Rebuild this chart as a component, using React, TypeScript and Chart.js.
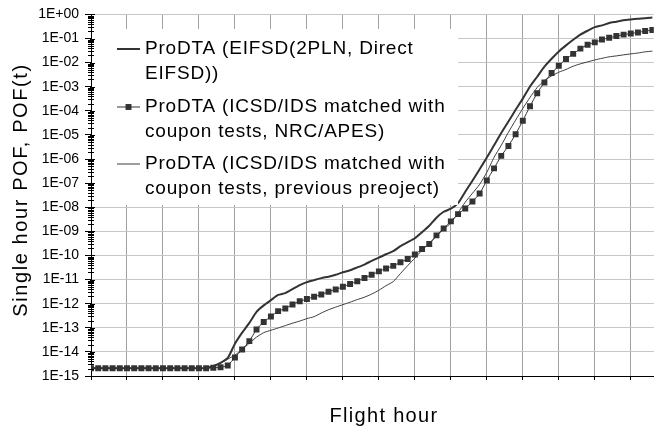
import React, { useEffect, useRef } from 'react';
import { Chart, registerables } from 'chart.js';

Chart.register(...registerables);

// x positions (data point steps along the flight-hour axis)
const flightSteps = [
  0, 1, 2, 3, 4, 5, 6, 7, 8, 9, 10, 11, 12, 13, 14, 15, 16, 17, 18, 19,
  20, 21, 22, 23, 24, 25, 26, 27, 28, 29, 30, 31, 32, 33, 34, 35, 36, 37, 38, 39,
  40, 41, 42, 43, 44, 45, 46, 47, 48, 49, 50, 51, 52, 53, 54, 55, 56, 57, 58, 59,
  60, 61, 62, 63, 64, 65, 66, 67, 68, 69, 70, 71, 72, 73, 74, 75, 76, 77, 78,
];
const xGridSteps = [0, 5, 10, 15, 20, 25, 30, 35, 40, 45, 50, 55, 60, 65, 70, 75];
const xMax = 78.2;

const yTickValues = [
  1e-15, 1e-14, 1e-13, 1e-12, 1e-11, 1e-10, 1e-9, 1e-8,
  1e-7, 1e-6, 1e-5, 1e-4, 1e-3, 1e-2, 1e-1, 1,
];
const yTickLabels = [
  '1E-15', '1E-14', '1E-13', '1E-12', '1E-11', '1E-10', '1E-09', '1E-08',
  '1E-07', '1E-06', '1E-05', '1E-04', '1E-03', '1E-02', '1E-01', '1E+00',
];

const seriesEifsd = [
  2.1e-15, 2.1e-15, 2.1e-15, 2.1e-15, 2.1e-15, 2.1e-15, 2.1e-15, 2.1e-15,
  2.1e-15, 2.1e-15, 2.1e-15, 2.1e-15, 2.1e-15, 2.1e-15, 2.1e-15, 2.1e-15,
  2.15e-15, 2.6e-15, 3.5e-15, 5.6e-15, 2.2e-14, 6.3e-14, 1.6e-13, 4.6e-13,
  8.5e-13, 1.4e-12, 2.3e-12, 2.75e-12, 4.0e-12, 5.9e-12, 7.8e-12, 9.5e-12,
  1.15e-11, 1.32e-11, 1.58e-11, 2.0e-11, 2.45e-11, 3.2e-11, 4.2e-11, 6.0e-11,
  8.1e-11, 1.12e-10, 1.51e-10, 2.45e-10, 3.55e-10, 5.2e-10, 9.3e-10, 1.7e-9,
  3.7e-9, 6.5e-9, 8.7e-9, 1.48e-8, 4.4e-8, 1.26e-7, 3.8e-7, 1.15e-6,
  3.7e-6, 1.2e-5, 3.6e-5, 1.1e-4, 3.2e-4, 1.02e-3, 2.6e-3, 6.8e-3,
  1.45e-2, 2.9e-2, 5.2e-2, 8.9e-2, 1.45e-1, 2.1e-1, 2.95e-1, 3.5e-1,
  4.4e-1, 5.0e-1, 5.75e-1, 6.2e-1, 6.6e-1, 6.9e-1, 7.4e-1,
];

const seriesNrcApes = [
  2.1e-15, 2.1e-15, 2.1e-15, 2.1e-15, 2.1e-15, 2.1e-15, 2.1e-15, 2.1e-15,
  2.1e-15, 2.1e-15, 2.1e-15, 2.1e-15, 2.1e-15, 2.1e-15, 2.1e-15, 2.1e-15,
  2.1e-15, 2.2e-15, 2.3e-15, 2.75e-15, 5.9e-15, 1.26e-14, 2.8e-14, 8.5e-14,
  1.74e-13, 2.95e-13, 4.9e-13, 6.3e-13, 9.3e-13, 1.26e-12, 1.55e-12, 1.95e-12,
  2.4e-12, 3.1e-12, 3.9e-12, 5.0e-12, 6.6e-12, 8.5e-12, 1.17e-11, 1.58e-11,
  2.19e-11, 2.9e-11, 3.7e-11, 5.2e-11, 7.2e-11, 1.1e-10, 1.86e-10, 3.0e-10,
  6.8e-10, 1.32e-9, 2.6e-9, 5.2e-9, 8.9e-9, 1.74e-8, 3.7e-8, 1.29e-7,
  4.1e-7, 1.35e-6, 3.5e-6, 1.07e-5, 3.9e-5, 1.55e-4, 5.4e-4, 1.51e-3,
  3.7e-3, 7.4e-3, 1.41e-2, 2.3e-2, 3.8e-2, 5.5e-2, 6.9e-2, 9.1e-2,
  1.07e-1, 1.26e-1, 1.45e-1, 1.62e-1, 1.78e-1, 2.04e-1, 2.24e-1,
];

const seriesPrevious = [
  2.1e-15, 2.1e-15, 2.1e-15, 2.1e-15, 2.1e-15, 2.1e-15, 2.1e-15, 2.1e-15,
  2.1e-15, 2.1e-15, 2.1e-15, 2.1e-15, 2.1e-15, 2.1e-15, 2.1e-15, 2.1e-15,
  2.1e-15, 2.45e-15, 3.5e-15, 5.0e-15, 7.4e-15, 1.26e-14, 2.3e-14, 4.1e-14,
  6.3e-14, 7.9e-14, 9.8e-14, 1.23e-13, 1.55e-13, 1.9e-13, 2.4e-13, 2.9e-13,
  4.1e-13, 5.6e-13, 7.2e-13, 9.1e-13, 1.15e-12, 1.48e-12, 1.86e-12, 2.5e-12,
  3.6e-12, 5.6e-12, 8.3e-12, 1.78e-11, 3.8e-11, 7.8e-11, 1.66e-10, 3.2e-10,
  6.3e-10, 1.23e-9, 2.2e-9, 5.9e-9, 1.62e-8, 3.8e-8, 8.9e-8, 2.8e-7,
  1.17e-6, 3.7e-6, 1.29e-5, 4.1e-5, 1.26e-4, 3.6e-4, 9.3e-4, 1.82e-3,
  2.8e-3, 4.0e-3, 5.2e-3, 7.1e-3, 8.9e-3, 1.07e-2, 1.29e-2, 1.51e-2,
  1.74e-2, 1.9e-2, 2.1e-2, 2.3e-2, 2.5e-2, 2.8e-2, 3.0e-2,
];

const legendLabels = [
  ['ProDTA (EIFSD(2PLN, Direct', 'EIFSD))'],
  ['ProDTA (ICSD/IDS matched with', 'coupon tests, NRC/APES)'],
  ['ProDTA (ICSD/IDS matched with', 'coupon tests, previous preoject)'],
];
const yTitle = 'Single hour POF, POF(t)';
const xTitle = 'Flight hour';

const FONT = '"Liberation Sans", Arial, sans-serif';
const LINE = '#333333';

const decorPlugin = {
  id: 'decor',
  beforeDraw(chart: any) {
    const ctx = chart.ctx;
    ctx.save();
    ctx.fillStyle = '#ffffff';
    ctx.fillRect(0, 0, chart.width, chart.height);
    ctx.restore();
  },
  afterDatasetsDraw(chart: any) {
    const ctx = chart.ctx;
    ctx.save();
    // legend box
    ctx.fillStyle = '#ffffff';
    ctx.fillRect(92, 29, 366, 176);
    const rows = [49, 107, 164];
    chart.data.datasets.forEach((ds: any, i: number) => {
      const y = rows[i];
      ctx.strokeStyle = ds.borderColor;
      ctx.lineWidth = ds.borderWidth;
      ctx.beginPath();
      ctx.moveTo(117, y);
      ctx.lineTo(140, y);
      ctx.stroke();
      if (ds.pointRadius > 0) {
        const s = ds.pointRadius * Math.SQRT1_2;
        ctx.fillStyle = ds.pointBackgroundColor;
        ctx.fillRect(128.5 - s, y - s, 2 * s, 2 * s);
      }
      ctx.fillStyle = '#000000';
      ctx.font = `19px ${FONT}`;
      (ctx as any).letterSpacing = '0.8px';
      ctx.textAlign = 'left';
      ctx.textBaseline = 'middle';
      legendLabels[i].forEach((t, k) => ctx.fillText(t, 145, y + k * 25));
    });
    ctx.restore();
  },
  afterDraw(chart: any) {
    const ctx = chart.ctx;
    const yScale = chart.scales.y;
    const xScale = chart.scales.x;
    const ax = xScale.left;
    ctx.save();
    ctx.strokeStyle = '#000000';
    ctx.lineWidth = 1;
    // major and minor ticks crossing the value axis
    yTickValues.forEach((v, idx) => {
      const yMajor = Math.round(yScale.getPixelForValue(v)) + 0.5;
      ctx.beginPath();
      ctx.moveTo(ax - 1, yMajor);
      ctx.lineTo(ax + 4, yMajor);
      ctx.stroke();
      if (idx === yTickValues.length - 1) return;
      for (let k = 2; k <= 9; k++) {
        const yy = Math.round(yScale.getPixelForValue(v * k)) + 0.5;
        ctx.beginPath();
        ctx.moveTo(ax - 3, yy);
        ctx.lineTo(ax + 3, yy);
        ctx.stroke();
      }
    });
    // axis titles
    ctx.fillStyle = '#000000';
    ctx.font = `20px ${FONT}`;
    (ctx as any).letterSpacing = '1.6px';
    ctx.textAlign = 'center';
    ctx.textBaseline = 'middle';
    ctx.save();
    ctx.translate(21, 190);
    ctx.rotate(-Math.PI / 2);
    ctx.fillText(yTitle, 0, 0);
    ctx.restore();
    (ctx as any).letterSpacing = '1.3px';
    ctx.fillText(xTitle, 384, 416);
    ctx.restore();
  },
};

export default function App() {
  const canvasRef = useRef<HTMLCanvasElement | null>(null);

  useEffect(() => {
    const canvas = canvasRef.current;
    if (!canvas) return;
    const chart = new Chart(canvas, {
      type: 'line',
      data: {
        labels: flightSteps,
        datasets: [
          {
            label: legendLabels[0].join(' '),
            data: seriesEifsd,
            borderColor: LINE,
            backgroundColor: LINE,
            borderWidth: 2,
            pointRadius: 0,
            tension: 0.2,
          },
          {
            label: legendLabels[1].join(' '),
            data: seriesNrcApes,
            borderColor: LINE,
            backgroundColor: LINE,
            pointBackgroundColor: LINE,
            pointBorderColor: LINE,
            pointBorderWidth: 0,
            pointStyle: 'rect',
            pointRadius: 4.2,
            borderWidth: 1,
            tension: 0.2,
          },
          {
            label: legendLabels[2].join(' '),
            data: seriesPrevious,
            borderColor: '#3c3c3c',
            backgroundColor: '#3c3c3c',
            borderWidth: 1,
            pointRadius: 0,
            tension: 0.2,
          },
        ],
      },
      options: {
        responsive: false,
        animation: false,
        devicePixelRatio: 1,
        layout: { padding: { top: 14, right: 0, bottom: 0, left: 0 } },
        plugins: {
          legend: { display: false },
          tooltip: { enabled: false },
          title: { display: false },
        },
        scales: {
          x: {
            type: 'linear',
            min: 0,
            max: xMax,
            afterBuildTicks: (scale: any) => {
              scale.ticks = xGridSteps.map((v) => ({ value: v }));
            },
            afterFit: (scale: any) => {
              scale.height = 55;
            },
            ticks: { display: false },
            grid: {
              color: '#a0a0a0',
              lineWidth: 1,
              drawTicks: true,
              tickLength: 4,
              tickColor: '#000000',
            },
            border: { color: '#000000', width: 1 },
          },
          y: {
            type: 'logarithmic',
            min: 1e-15,
            max: 1,
            afterBuildTicks: (scale: any) => {
              scale.ticks = yTickValues.map((v) => ({ value: v, major: true }));
            },
            afterFit: (scale: any) => {
              scale.width = 91;
            },
            ticks: {
              autoSkip: false,
              padding: 6,
              color: '#000000',
              font: { family: FONT, size: 14 },
              callback: (_v: any, index: number) => yTickLabels[index],
            },
            grid: {
              color: '#c6c6c6',
              lineWidth: 1,
              drawTicks: true,
              tickLength: 6,
              tickColor: '#000000',
            },
            border: { color: '#000000', width: 1 },
          },
        },
      },
      plugins: [decorPlugin],
    });
    return () => chart.destroy();
  }, []);

  return (
    <div style={{ position: 'absolute', left: 0, top: 0, width: 658, height: 431 }}>
      <canvas ref={canvasRef} width={658} height={431} style={{ display: 'block', width: 658, height: 431 }} />
    </div>
  );
}
